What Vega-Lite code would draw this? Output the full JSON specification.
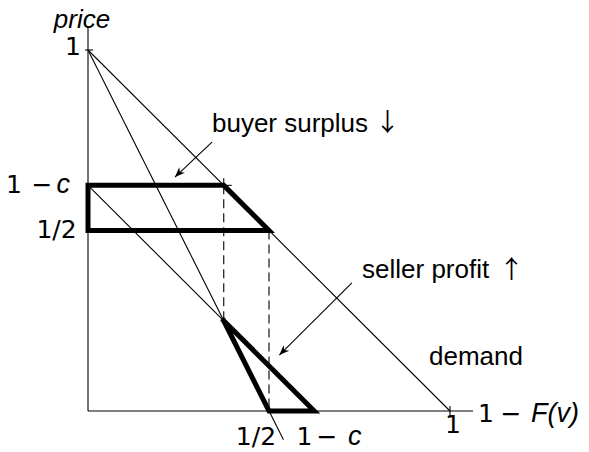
{
  "$schema": "https://vega.github.io/schema/vega-lite/v6.json",
  "width": 589,
  "height": 452,
  "autosize": {"type": "fit", "contains": "padding"},
  "padding": 0,
  "background": "white",
  "config": {"view": {"stroke": null}},
  "datasets": {
    "thin": [
      {"x": 0, "y": 0, "x2": 0, "y2": 1.061},
      {"x": 0, "y": 0, "x2": 1.0635, "y2": 0},
      {"x": 0, "y": 1, "x2": 1, "y2": 0},
      {"x": 0, "y": 1, "x2": 0.54, "y2": -0.08},
      {"x": 0, "y": 0.625, "x2": 0.625, "y2": 0},
      {"x": -0.008, "y": 1, "x2": 0.014, "y2": 1},
      {"x": 0.375, "y": 0.625, "x2": 0.397, "y2": 0.625},
      {"x": 0.375, "y": 0.625, "x2": 0.375, "y2": 0.645},
      {"x": 1, "y": 0.014, "x2": 1, "y2": -0.014},
      {"x": 0.3425, "y": 0.745, "x2": 0.2403, "y2": 0.648},
      {"x": 0.729, "y": 0.3546, "x2": 0.5285, "y2": 0.155}
    ],
    "dashed": [
      {"x": 0.375, "y": 0.625, "x2": 0.375, "y2": 0.25},
      {"x": 0.5, "y": 0.5, "x2": 0.5, "y2": 0}
    ],
    "thick": [
      {"shape": "buyer", "o": 0, "x": 0, "y": 0.625},
      {"shape": "buyer", "o": 1, "x": 0.375, "y": 0.625},
      {"shape": "buyer", "o": 2, "x": 0.5, "y": 0.5},
      {"shape": "buyer", "o": 3, "x": 0, "y": 0.5},
      {"shape": "buyer", "o": 4, "x": 0, "y": 0.625},
      {"shape": "seller", "o": 0, "x": 0.375, "y": 0.25},
      {"shape": "seller", "o": 1, "x": 0.5, "y": 0},
      {"shape": "seller", "o": 2, "x": 0.625, "y": 0},
      {"shape": "seller", "o": 3, "x": 0.375, "y": 0.25}
    ],
    "heads": [
      {"x": 0.2403, "y": 0.648},
      {"x": 0.5285, "y": 0.155}
    ],
    "words": [
      {"t": "buyer surplus", "x": 0.3425, "y": 0.795},
      {"t": "seller profit", "x": 0.757, "y": 0.39},
      {"t": "demand", "x": 0.942, "y": 0.15}
    ],
    "arrows": [
      {"t": "↓", "x": 0.8273, "y": 0.7978},
      {"t": "↑", "x": 1.17, "y": 0.3906}
    ],
    "nums": [
      {"t": "1", "x": -0.0414, "y": 1.007},
      {"t": "1/2", "x": -0.087, "y": 0.5},
      {"t": "1/2", "x": 0.464, "y": -0.072},
      {"t": "1", "x": 1.008, "y": -0.0388},
      {"t": "1", "x": -0.2044, "y": 0.625},
      {"t": "−", "x": -0.1271, "y": 0.625},
      {"t": "1", "x": 0.5981, "y": -0.072},
      {"t": "−", "x": 0.6602, "y": -0.072},
      {"t": "1", "x": 1.0994, "y": -0.0083},
      {"t": "−", "x": 1.1685, "y": -0.0083}
    ],
    "italicLeft": [
      {"t": "c", "x": 0.718, "y": -0.072},
      {"t": "F(v)", "x": 1.2238, "y": -0.0083}
    ],
    "italicRight": [
      {"t": "c", "x": -0.0497, "y": 0.625}
    ],
    "italicTitle": [
      {"t": "price", "x": -0.0166, "y": 1.061}
    ]
  },
  "encoding": {
    "x": {"field": "x", "type": "quantitative", "scale": {"domain": [-0.2431, 1.384], "nice": false, "zero": false}, "axis": null},
    "y": {"field": "y", "type": "quantitative", "scale": {"domain": [-0.1136, 1.1385], "nice": false, "zero": false}, "axis": null}
  },
  "layer": [
    {
      "data": {"name": "thin"},
      "mark": {"type": "rule", "color": "black", "strokeWidth": 1.1},
      "encoding": {"x2": {"field": "x2"}, "y2": {"field": "y2"}}
    },
    {
      "data": {"name": "dashed"},
      "mark": {"type": "rule", "color": "black", "strokeWidth": 1.1, "strokeDash": [9, 5]},
      "encoding": {"x2": {"field": "x2"}, "y2": {"field": "y2"}}
    },
    {
      "data": {"name": "thick"},
      "mark": {"type": "line", "color": "black", "strokeWidth": 5, "strokeJoin": "miter", "strokeCap": "square"},
      "encoding": {"detail": {"field": "shape"}, "order": {"field": "o", "type": "quantitative"}}
    },
    {
      "data": {"name": "heads"},
      "mark": {"type": "point", "shape": "M0,0 L0.8,2 L0,1.4 L-0.8,2 Z", "filled": true, "color": "black", "opacity": 1, "size": 100, "angle": 225}
    },
    {
      "data": {"name": "words"},
      "mark": {"type": "text", "font": "Liberation Sans", "fontSize": 26, "align": "left", "baseline": "middle", "color": "black"},
      "encoding": {"text": {"field": "t"}}
    },
    {
      "data": {"name": "arrows"},
      "mark": {"type": "text", "font": "Noto Sans CJK JP", "fontSize": 25, "align": "center", "baseline": "middle", "color": "black"},
      "encoding": {"text": {"field": "t"}}
    },
    {
      "data": {"name": "nums"},
      "mark": {"type": "text", "font": "DejaVu Sans", "fontSize": 25, "align": "center", "baseline": "middle", "color": "black"},
      "encoding": {"text": {"field": "t"}}
    },
    {
      "data": {"name": "italicLeft"},
      "mark": {"type": "text", "font": "Liberation Sans", "fontStyle": "italic", "fontSize": 27, "align": "left", "baseline": "middle", "color": "black"},
      "encoding": {"text": {"field": "t"}}
    },
    {
      "data": {"name": "italicRight"},
      "mark": {"type": "text", "font": "Liberation Sans", "fontStyle": "italic", "fontSize": 27, "align": "right", "baseline": "middle", "color": "black"},
      "encoding": {"text": {"field": "t"}}
    },
    {
      "data": {"name": "italicTitle"},
      "mark": {"type": "text", "font": "Liberation Sans", "fontStyle": "italic", "fontSize": 26, "align": "center", "baseline": "alphabetic", "color": "black"},
      "encoding": {"text": {"field": "t"}}
    }
  ]
}
